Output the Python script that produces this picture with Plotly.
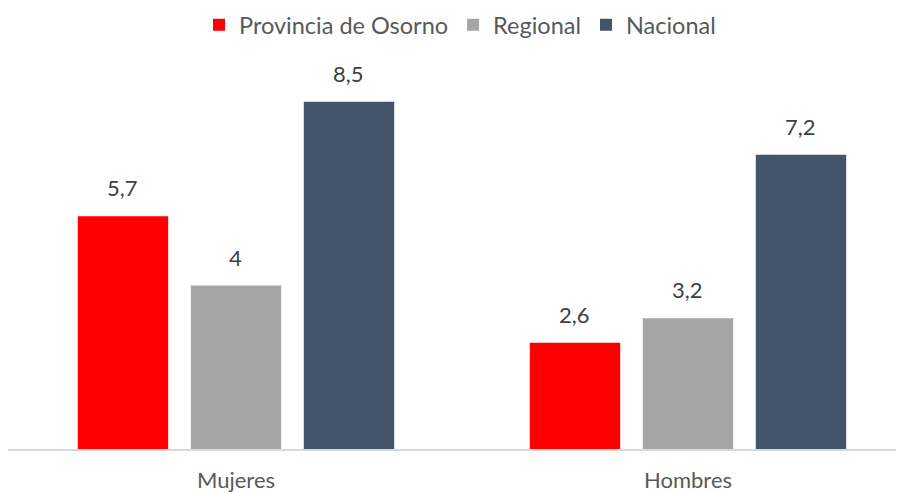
import plotly.graph_objects as go

categories = ["Mujeres", "Hombres"]
series_names = ["Provincia de Osorno", "Regional", "Nacional"]
provincia = [5.7, 2.6]
regional = [4, 3.2]
nacional = [8.5, 7.2]
colors = ["#FF0000", "#A5A5A5", "#44546A"]

BARGAP = 0.25
FONT = "Lato"

def fmt(v):
    return f"{v:g}".replace(".", ",")

fig = go.Figure()
all_series = [provincia, regional, nacional]
for name, vals, col in zip(series_names, all_series, colors):
    fig.add_trace(go.Bar(
        x=list(range(len(categories))), y=vals, name=name,
        marker=dict(color=col, line=dict(width=0)),
    ))

# value labels above bars
n = len(all_series)
slot = (1 - BARGAP) / n
annotations = []
for si, vals in enumerate(all_series):
    for ci, v in enumerate(vals):
        annotations.append(dict(
            x=ci + (si - (n - 1) / 2) * slot, y=v, xref="x", yref="y",
            text=fmt(v), showarrow=False, yanchor="bottom", yshift=13,
            font=dict(family=FONT, size=22, color="#404040"),
        ))

fig.update_layout(
    width=904, height=493,
    margin=dict(l=0, r=0, t=37, b=52),
    paper_bgcolor="white", plot_bgcolor="white",
    barmode="group", bargap=BARGAP, bargroupgap=0.2,
    font=dict(family=FONT, color="#595959"),
    annotations=annotations,
    legend=dict(orientation="h", x=0.5, xanchor="center",
                yref="container", y=(493 - 17) / 493, yanchor="middle",
                font=dict(family=FONT, size=23.5, color="#595959"),
                itemwidth=30, traceorder="normal"),
    xaxis=dict(range=[-0.5044, 1.4956], showgrid=False, showline=True,
               linecolor="#D9D9D9", linewidth=1.5, ticks="",
               tickmode="array", tickvals=list(range(len(categories))),
               ticktext=categories, ticklabelstandoff=11,
               tickfont=dict(family=FONT, size=22, color="#595959")),
    yaxis=dict(range=[0, 9.84], visible=False),
    showlegend=True,
)
fig.write_html("out.html")
